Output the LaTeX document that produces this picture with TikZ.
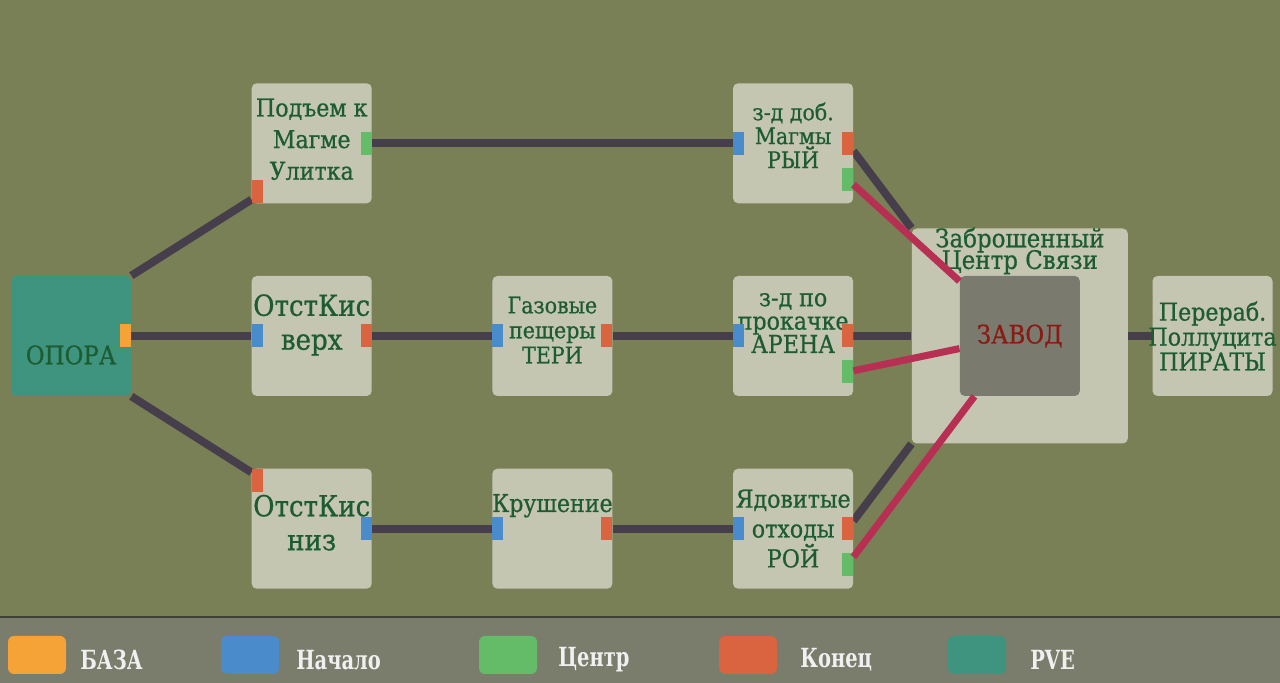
\documentclass[tikz,border=0pt]{standalone}
\usepackage{fontspec}
\setmainfont{DejaVu Serif Condensed}[FakeBold=0.7]
\newfontfamily\legendfont{DejaVu Serif Condensed}[FakeStretch=0.82]
\usepackage{tikz}
\usetikzlibrary{positioning, calc, backgrounds}
\definecolor{bgolive}{HTML}{7A8056}
\definecolor{legendgrey}{HTML}{7A7C6C}
\definecolor{legendline}{HTML}{3F4038}
\definecolor{boxfill}{HTML}{C5C6B1}
\definecolor{pvecol}{HTML}{3E947E}
\definecolor{basecol}{HTML}{F5A336}
\definecolor{startcol}{HTML}{4A8BCB}
\definecolor{midcol}{HTML}{64BC69}
\definecolor{endcol}{HTML}{DA6340}
\definecolor{txtgreen}{HTML}{1D5C30}
\definecolor{linedark}{HTML}{463F4B}
\definecolor{linered}{HTML}{B72F52}
\definecolor{plantgrey}{HTML}{7A7A6E}
\definecolor{plantred}{HTML}{8A1A12}
\tikzset{
  loc/.style={rectangle, rounded corners=0.1cm, fill=boxfill, minimum width=2.4cm, minimum height=2.4cm, inner sep=0pt},
  pve/.style={loc, fill=pvecol},
  port/.style={rectangle, minimum width=0.22cm, minimum height=0.46cm, inner sep=0pt},
  loctext/.style={align=center, text=txtgreen, inner sep=0pt},
  link/.style={draw=linedark, line width=4.5pt},
  hub/.style={draw=linered, line width=4pt},
  swatch/.style={rectangle, rounded corners=0.12cm, minimum width=1.16cm, minimum height=0.76cm, inner sep=0pt},
  legtext/.style={text=white!94!black, anchor=west, inner sep=0pt, font=\legendfont\bfseries\fontsize{15}{15}\selectfont},
}

\begin{document}
\begin{tikzpicture}[node distance=1.44cm and 2.4cm]
\useasboundingbox (0,0) rectangle (25.6,13.66);
% locations
\node[pve] (opora) at (1.42,6.94) {};
\node[loc, right=of opora] (verh) {};
\node[loc, above=of verh] (ulitka) {};
\node[loc, below=of verh] (niz) {};
\node[loc, right=of verh] (gas) {};
\node[loc, below=of gas] (krush) {};
\node[loc, right=of gas] (arena) {};
\node[loc, above=of arena] (ryi) {};
\node[loc, below=of arena] (yad) {};
\node[loc, minimum width=4.32cm, minimum height=4.3cm, right=1.16cm of arena] (centre) {};
\node[loc, fill=plantgrey] (zavod) at (centre) {};
\node[loc, right=0.48cm of centre] (pererab) {};
% texts
\node[loctext, font=\fontsize{14.5}{17}\selectfont] (opora-t) at ([yshift=-0.38cm]opora.center) {ОПОРА};
\node[loctext, font=\fontsize{14}{18}\selectfont] (ulitka-t) at ([yshift=0.08cm]ulitka.center) {Подъем к\\Магме\\Улитка};
\node[loctext, font=\fontsize{16.5}{19.3}\selectfont] (verh-t) at ([yshift=0.22cm]verh.center) {ОтстКис\\верх};
\node[loctext, font=\fontsize{16.5}{19.3}\selectfont] (niz-t) at ([yshift=0.12cm]niz.center) {ОтстКис\\низ};
\node[loctext, font=\fontsize{13}{14.2}\selectfont] (gas-t) at ([yshift=0.12cm]gas.center) {Газовые\\пещеры\\ТЕРИ};
\node[loctext, font=\fontsize{14}{16}\selectfont] (krush-t) at ([yshift=0.46cm]krush.center) {Крушение};
\node[loctext, font=\fontsize{13}{13.6}\selectfont] (ryi-t) at ([yshift=0.16cm]ryi.center) {з-д доб.\\Магмы\\РЫЙ};
\node[loctext, font=\fontsize{14}{13.3}\selectfont] (arena-t) at ([yshift=0.26cm]arena.center) {з-д по\\прокачке\\АРЕНА};
\node[loctext, font=\fontsize{14}{17}\selectfont] (yad-t) at (yad.center) {Ядовитые\\отходы\\РОЙ};
\node[loctext, font=\fontsize{14.5}{14.5}\selectfont, anchor=north] (centre-t) at ([yshift=0.02cm]centre.north) {Заброшенный\\[-2.2pt]Центр Связи};
\node[loctext, text=plantred, font=\fontsize{14.5}{17}\selectfont] (zavod-t) at (zavod.center) {ЗАВОД};
\node[loctext, font=\fontsize{14}{14.2}\selectfont] (pererab-t) at (pererab.center) {Перераб.\\Поллуцита\\ПИРАТЫ};
% ports
\node[port, fill=basecol, anchor=east] (opora-out) at (opora.east) {};
\node[port, fill=endcol, anchor=south west] (ulitka-end) at (ulitka.south west) {};
\node[port, fill=midcol, anchor=east] (ulitka-mid) at (ulitka.east) {};
\node[port, fill=startcol, anchor=west] (verh-start) at (verh.west) {};
\node[port, fill=endcol, anchor=east] (verh-end) at (verh.east) {};
\node[port, fill=endcol, anchor=north west] (niz-end) at (niz.north west) {};
\node[port, fill=startcol, anchor=east] (niz-start) at (niz.east) {};
\node[port, fill=startcol, anchor=west] (gas-start) at (gas.west) {};
\node[port, fill=endcol, anchor=east] (gas-end) at (gas.east) {};
\node[port, fill=startcol, anchor=west] (krush-start) at (krush.west) {};
\node[port, fill=endcol, anchor=east] (krush-end) at (krush.east) {};
\node[port, fill=startcol, anchor=west] (ryi-start) at (ryi.west) {};
\node[port, fill=endcol, anchor=east] (ryi-end) at (ryi.east) {};
\node[port, fill=midcol, anchor=east] (ryi-mid) at ($(ryi.east)+(0,-0.72)$) {};
\node[port, fill=startcol, anchor=west] (arena-start) at (arena.west) {};
\node[port, fill=endcol, anchor=east] (arena-end) at (arena.east) {};
\node[port, fill=midcol, anchor=east] (arena-mid) at ($(arena.east)+(0,-0.72)$) {};
\node[port, fill=startcol, anchor=west] (yad-start) at (yad.west) {};
\node[port, fill=endcol, anchor=east] (yad-end) at (yad.east) {};
\node[port, fill=midcol, anchor=east] (yad-mid) at ($(yad.east)+(0,-0.72)$) {};
% legend
\node[swatch, fill=basecol] (leg-base) at (0.74,0.56) {};
\node[legtext] (leg-base-t) at (1.6,0.46) {БАЗА};
\node[swatch, fill=startcol] (leg-start) at (5.0,0.56) {};
\node[legtext] (leg-start-t) at (5.92,0.46) {Начало};
\node[swatch, fill=midcol] (leg-mid) at (10.16,0.56) {};
\node[legtext] (leg-mid-t) at (11.16,0.46) {Центр};
\node[swatch, fill=endcol] (leg-end) at (14.96,0.56) {};
\node[legtext] (leg-end-t) at (16.0,0.46) {Конец};
\node[swatch, fill=pvecol] (leg-pve) at (19.54,0.56) {};
\node[legtext] (leg-pve-t) at (20.6,0.46) {PVE};
% connectors
\begin{scope}[on background layer]
\fill[bgolive] (0,0) rectangle (25.6,13.66);
\fill[legendgrey] (0,0) rectangle (25.6,1.32);
\draw[line width=1.6pt, legendline] (0,1.32) -- (25.6,1.32);
\draw[link] (opora.north east) -- ([yshift=0.08cm]ulitka-end.south west);
\draw[link] (opora.south east) -- ([yshift=-0.08cm]niz-end.north west);
\draw[link] (opora-out) -- (verh-start);
\draw[link] (ulitka-mid) -- (ryi-start);
\draw[link] (verh-end) -- (gas-start);
\draw[link] (gas-end) -- (arena-start);
\draw[link] (niz-start) -- (krush-start);
\draw[link] (krush-end) -- (yad-start);
\draw[link] (ryi-end) -- (centre.north west);
\draw[link] (arena-end) -- (centre.west);
\draw[link] (yad-end) -- (centre.south west);
\draw[link] (centre.east) -- (pererab.west);
\end{scope}
\draw[hub] (ryi-mid) -- (zavod);
\draw[hub] (arena-mid) -- (zavod);
\draw[hub] (yad-mid) -- (zavod);
\end{tikzpicture}
\end{document}
